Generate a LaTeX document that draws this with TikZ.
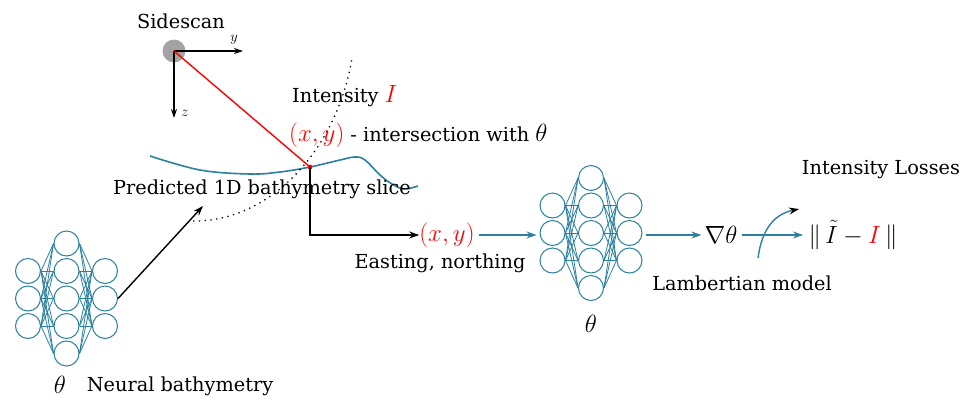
\documentclass[tikz,border=0pt]{standalone}
\usepackage{fontspec}
\setmainfont{DejaVu Serif}
\usetikzlibrary{arrows.meta}
\definecolor{tealc}{RGB}{42,128,158}
\tikzset{
  txt/.style={font=\fontsize{19.3}{22}\selectfont, inner sep=0pt},
  mth/.style={font=\fontsize{24}{28}\selectfont, inner sep=0pt},
  neuron/.style={circle, draw=tealc, line width=1pt, minimum size=25pt, inner sep=0pt},
  wire/.style={draw=tealc, line width=0.8pt},
  blk/.style={draw=black, line width=1.4pt, -{Stealth[length=10pt,width=7pt]}},
  tarrow/.style={draw=tealc, line width=1.4pt, -{Stealth[length=10pt,width=7pt]}},
}
\newcommand{\mynet}[3]{% prefix, x of middle column, y of middle row
  \foreach \i/\dy in {1/-27.5,2/0,3/27.5}{
    \node[neuron] (#1a\i) at (#2-38.5,#3+\dy) {};
    \node[neuron] (#1c\i) at (#2+38.5,#3+\dy) {};
  }
  \foreach \i/\dy in {1/-55,2/-27.5,3/0,4/27.5,5/55}{
    \node[neuron] (#1b\i) at (#2,#3+\dy) {};
  }
  \foreach \i in {1,2,3}{
    \foreach \j in {1,...,5}{
      \path[wire] (#1a\i.east) -- (#1b\j.west);
      \path[wire] (#1b\j.east) -- (#1c\i.west);
    }
  }
}
\begin{document}
\begin{tikzpicture}[x=1pt,y=-1pt]
\useasboundingbox (0,0) rectangle (966,400);
% sidescan
\node[txt] (side) at (181,21) {Sidescan};
\node[circle, fill=black!36, minimum size=23pt, inner sep=0pt] (sonar) at (174,51) {};
\coordinate (o) at (174,51);
\coordinate (ytip) at (243,51);
\coordinate (ztip) at (174,118);
\draw[draw=black, line width=1.3pt, -{Stealth[length=9pt,width=6pt]}] (o) -- (ytip);
\draw[draw=black, line width=1.3pt, -{Stealth[length=9pt,width=6pt]}] (o) -- (ztip);
\node[font=\fontsize{14}{16}\selectfont, inner sep=0pt] (ylab) at (234,40) {$y$};
\node[font=\fontsize{14}{16}\selectfont, inner sep=0pt] (zlab) at (185,113) {$z$};
\coordinate (hit) at (310,167);
% bathymetry slice
\draw[tealc, line width=1.6pt] plot[smooth, tension=0.6] coordinates {(150,156) (200,170) (250,174) (280,172) (310,167) (340,160) (355,157) (365,160) (380,175) (392,184) (404,189) (418,186)};
% dotted ray
\coordinate (dotstart) at (193,221);
\coordinate (dotend) at (352,58);
\draw[black, line width=1.3pt, dash pattern=on 1.3pt off 4.5pt] (dotstart) .. controls (270,222) and (337,150) .. (dotend);
% red ray
\draw[red, line width=1.4pt] (o) -- (hit);
\fill[red] (hit) circle (2.4);
% texts
\node[txt, anchor=base west] (inten) at (292,102) {Intensity {\fontsize{24}{28}\selectfont\color{red}$I$}};
\node[txt, anchor=base west] (inter) at (289,141) {{\fontsize{24}{28}\selectfont\color{red}$(x,y)$} - intersection with {\fontsize{24}{28}\selectfont$\theta$}};
\node[txt] (pred) at (262,189) {Predicted 1D bathymetry slice};
% left network
\mynet{n}{66.5}{298.5}
\coordinate (predtip) at (203,206);
\draw[blk] (nc2.east) -- (predtip);
\node[mth] (th1) at (60,385) {$\theta$};
\node[txt] (nb) at (180,386) {Neural bathymetry};
% easting
\node[mth, text=red] (xy) at (447,235) {$(x,y)$};
\draw[blk] (hit) |- (xy.west);
\node[txt] (east) at (440,263) {Easting, northing};
% right network
\mynet{m}{591}{233}
\draw[tarrow] ([xshift=4pt]xy.east) -- ([xshift=-3pt]xy.east -| ma2.west);
\node[mth] (th2) at (591,324) {$\theta$};
\node[mth] (grad) at (721,235) {$\nabla\theta$};
\draw[tarrow] ([xshift=3pt]mc2.east |- grad.west) -- ([xshift=-3pt]grad.west);
\node[mth] (norm) at (853,235) {$\|\,\tilde{I}-{\color{red}I}\,\|$};
\coordinate (normin) at (803,235);
\draw[tarrow] ([xshift=4pt]grad.east) -- (normin);
\coordinate (lamstart) at (758,258);
\coordinate (lamend) at (799,209);
\draw[tealc, line width=1.4pt, -{Stealth[length=10pt,width=7pt,black]}] (lamstart) .. controls (762,228) and (775,214) .. (lamend);
\node[txt] (loss) at (881,170) {Intensity Losses};
\node[txt] (lam) at (742,283) {Lambertian model};
\end{tikzpicture}
\end{document}
